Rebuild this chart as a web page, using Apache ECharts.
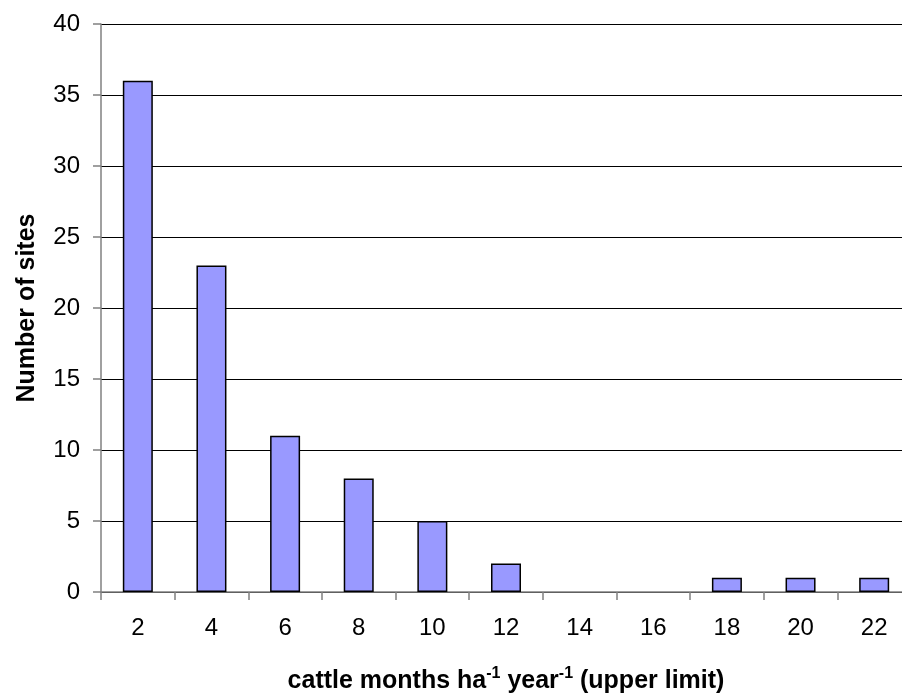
<!DOCTYPE html>
<html>
<head>
<meta charset="utf-8">
<style>html,body{margin:0;padding:0;background:#fff;}#chart{width:902px;height:693px;}</style>
<script src="https://cdn.jsdelivr.net/npm/echarts@6/dist/echarts.min.js"></script>
</head>
<body>
<div id="chart"></div>
<script>
var categories = ['2','4','6','8','10','12','14','16','18','20','22'];
var sites = [36, 23, 11, 8, 5, 2, 0, 0, 1, 1, 1];
var chart = echarts.init(document.getElementById('chart'), null, {renderer:'canvas'});
var font = 'Arial, "Liberation Sans", sans-serif';
chart.setOption({
  animation: false,
  grid: {left: 101, width: 810, top: 24, height: 568, containLabel: false, outerBoundsMode: 'none'},
  xAxis: {
    type: 'category',
    data: categories,
    axisLine: {lineStyle: {color: '#808080', width: 1.5}},
    axisTick: {show: true, length: 8, lineStyle: {color: '#808080', width: 1.5}},
    axisLabel: {color: '#000', fontSize: 24, fontFamily: font, margin: 24},
    name: 'cattle months ha{s|-1} year{s|-1} (upper limit)',
    nameLocation: 'middle',
    nameGap: 74,
    nameTextStyle: {
      color: '#000', fontSize: 25, fontWeight: 'bold', fontFamily: font, lineHeight: 30,
      rich: {s: {fontSize: 16, fontWeight: 'bold', fontFamily: font, verticalAlign: 'top', lineHeight: 30, padding:[0,0,12,0]}}
    }
  },
  yAxis: {
    type: 'value',
    min: 0, max: 40, interval: 5,
    axisLine: {show: true, lineStyle: {color: '#808080', width: 1.5}},
    axisTick: {show: true, length: 8, lineStyle: {color: '#808080', width: 1.5}},
    axisLabel: {color: '#000', fontSize: 24, fontFamily: font, margin: 21},
    splitLine: {lineStyle: {color: '#000', width: 1}},
    name: 'Number of sites',
    nameLocation: 'middle',
    nameGap: 61,
    nameTextStyle: {color: '#000', fontSize: 25, fontWeight: 'bold', fontFamily: font}
  },
  series: [{
    type: 'bar',
    data: sites.map(function (v) { return v === 0 ? {value: v, itemStyle: {borderWidth: 0}} : v; }),
    barWidth: 30,
    itemStyle: {color: '#9999FF', borderColor: '#000', borderWidth: 1.5}
  }]
});
</script>
</body>
</html>
